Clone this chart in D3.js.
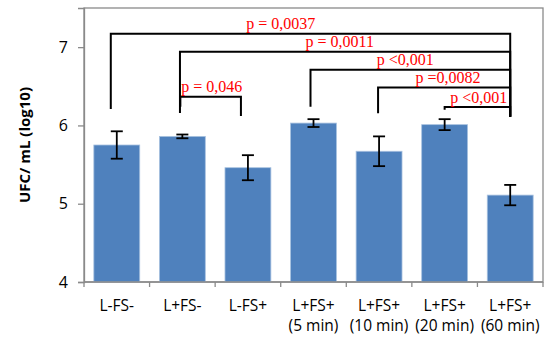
<!DOCTYPE html>
<html>
<head>
<meta charset="utf-8">
<script src="https://cdn.jsdelivr.net/npm/d3@7"></script>
<style>
  html, body { margin: 0; padding: 0; background: #fff; }
  svg { display: block; }
</style>
</head>
<body>
<svg id="chart" width="546" height="340"></svg>
<script>
// ---- data ----
const categories = ["L-FS-", "L+FS-", "L-FS+", "L+FS+\n(5 min)", "L+FS+\n(10 min)", "L+FS+\n(20 min)", "L+FS+\n(60 min)"];
const means  = [5.75, 5.86, 5.46, 6.03, 5.67, 6.01, 5.11];
const errors = [0.175, 0.024, 0.16, 0.05, 0.19, 0.07, 0.13];
const yTicks = [4, 5, 6, 7];
const yTitle = "UFC/ mL (log10)";
// significance brackets: from/to bar index, level and leg ends in axis units
const bracketFrom   = [0, 1, 1, 3, 4, 5];
const bracketTo     = [6, 6, 2, 6, 6, 6];
const bracketLevel  = [7.171, 6.941, 6.367, 6.711, 6.486, 6.235];
const bracketFromEnd= [6.21, 6.16, 6.24, 6.24, 6.155, 6.20];
const bracketToEnd  = [6.11, 6.11, 6.12, 6.11, 6.11, 6.11];
const bracketLabels = ["p = 0,0037", "p = 0,0011", "p = 0,046", "p <0,001", "p =0,0082", "p <0,001"];

// ---- layout ----
const labelShift = [-0.5, -0.1, -0.05, -0.1, 0.05, 0.02];
const fromNudge = [-6, -2.4, -2, -3, -1, 0];   // px, hand-drawn leg offsets
const toNudge   = [0, 0, -7, 0, 0, 0];
const plot = { left: 84, right: 543, top: 8, bottom: 282 };

const svg = d3.select("#chart");

const x = d3.scaleBand()
  .domain(categories)
  .range([plot.left, plot.right])
  .paddingInner(0.3)
  .paddingOuter(0.15);

const y = d3.scaleLinear().domain([4, 7.5]).range([plot.bottom, plot.top]);

const step = x.step();
const bw = x.bandwidth();
const cx = i => x(categories[i]) + bw / 2;

// plot area border
svg.append("rect")
  .attr("x", plot.left).attr("y", plot.top)
  .attr("width", plot.right - plot.left).attr("height", plot.bottom - plot.top)
  .attr("fill", "none").attr("stroke", "#8a8a8a").attr("stroke-width", 1.3);

// bars
svg.append("g").selectAll("rect")
  .data(means)
  .join("rect")
  .attr("x", (d, i) => x(categories[i]))
  .attr("y", d => y(d))
  .attr("width", bw)
  .attr("height", d => y(4) - y(d))
  .attr("fill", "#4F81BD")
  .attr("stroke", "#a9c2e0")
  .attr("stroke-width", 0.8);

// error bars
const eb = svg.append("g").attr("stroke", "#000").attr("stroke-width", 1.8).attr("fill", "none");
means.forEach((m, i) => {
  const xc = cx(i), hi = y(m + errors[i]), lo = y(m - errors[i]);
  eb.append("line").attr("x1", xc).attr("x2", xc).attr("y1", hi).attr("y2", lo);
  eb.append("line").attr("x1", xc - 6).attr("x2", xc + 6).attr("y1", hi).attr("y2", hi);
  eb.append("line").attr("x1", xc - 6).attr("x2", xc + 6).attr("y1", lo).attr("y2", lo);
});

// y axis
const yAxis = d3.axisLeft(y).tickValues(yTicks).tickSize(6).tickPadding(10).tickFormat(d3.format("d"));
const yg = svg.append("g").attr("transform", `translate(${plot.left},0)`).call(yAxis);
yg.select(".domain").attr("stroke", "#8a8a8a").attr("stroke-width", 1.3);
yg.selectAll(".tick line").attr("stroke", "#8a8a8a").attr("stroke-width", 1.3);
yg.selectAll(".tick text")
  .attr("font-family", "'Open Sans', sans-serif")
  .attr("font-size", "16px")
  .attr("fill", "#000");

// x axis: ticks at category boundaries
const xg = svg.append("g");
xg.append("line")
  .attr("x1", plot.left).attr("x2", plot.right)
  .attr("y1", plot.bottom).attr("y2", plot.bottom)
  .attr("stroke", "#8a8a8a").attr("stroke-width", 1.3);
d3.range(categories.length + 1).forEach(i => {
  const xx = plot.left + i * step;
  xg.append("line")
    .attr("x1", xx).attr("x2", xx)
    .attr("y1", plot.bottom).attr("y2", plot.bottom + 5)
    .attr("stroke", "#8a8a8a").attr("stroke-width", 1.3);
});
categories.forEach((c, i) => {
  c.split("\n").forEach((l, k) => {
    xg.append("text")
      .attr("x", cx(i))
      .attr("y", 310.5 + k * 20)
      .attr("text-anchor", "middle")
      .attr("font-family", "'Open Sans', sans-serif")
      .attr("font-size", "15.5px")
      .attr("fill", "#000")
      .text(l);
  });
});

// y title
svg.append("text")
  .attr("transform", `translate(29.5, 145) rotate(-90)`)
  .attr("text-anchor", "middle")
  .attr("font-family", "'Open Sans', sans-serif")
  .attr("font-weight", "bold")
  .attr("font-size", "15px")
  .attr("fill", "#000")
  .text(yTitle);

// significance brackets
const br = svg.append("g");
const xAt = p => plot.left + (p + 0.5) * step; // p in bar-index units
bracketFrom.forEach((f, k) => {
  const t = bracketTo[k];
  const x1 = cx(f) + fromNudge[k], x2 = cx(t) + toNudge[k], yl = y(bracketLevel[k]);
  br.append("path")
    .attr("d", `M${x1},${y(bracketFromEnd[k])}V${yl}H${x2}V${y(bracketToEnd[k])}`)
    .attr("fill", "none")
    .attr("stroke", "#000")
    .attr("stroke-width", 2);
  br.append("text")
    .attr("x", xAt((f + t) / 2 + labelShift[k]))
    .attr("y", yl - 4.5)
    .attr("text-anchor", "middle")
    .attr("font-family", "'Liberation Serif', 'Times New Roman', serif")
    .attr("font-size", "16px")
    .attr("fill", "#FF0000")
    .text(bracketLabels[k]);
});
</script>
</body>
</html>
